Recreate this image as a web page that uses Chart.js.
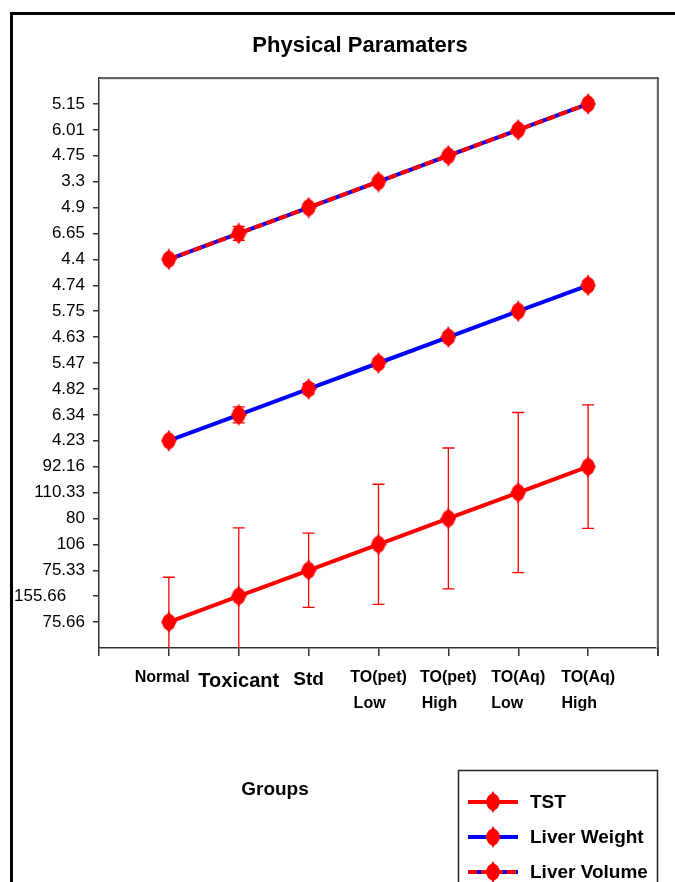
<!doctype html>
<html lang="en"><head>
<meta charset="utf-8"/>
<title>Physical Paramaters</title>
<script src="https://cdn.jsdelivr.net/npm/chart.js@4.4.6/dist/chart.umd.min.js"></script>
<style>
  *{box-sizing:border-box}
  html,body{margin:0;padding:0;background:#fff}
  #wrap{width:675px;height:882px;overflow:hidden}
</style></head>
<body>
<div id="wrap"><canvas id="c" width="675" height="882"></canvas></div>
<script>
// data: every point sits on one y tick (index), tick labels are the printed values
const groups = [['Normal   '], ['Toxicant'], ['Std'], ['TO(pet)', 'Low    '], ['TO(pet)', 'High    '], ['TO(Aq)', 'Low     '], ['TO(Aq)', 'High    ']];
const yTickLabels = ['75.66', '155.66    ', '75.33', '106', '80', '110.33', '92.16',
  '4.23', '6.34', '4.82', '5.47', '4.63', '5.75', '4.74',
  '4.4', '6.65', '4.9', '3.3', '4.75', '6.01', '5.15'];
const tst = [0, 1, 2, 3, 4, 5, 6];
const tstErr = [1.73, 2.64, 1.43, 2.32, 2.72, 3.09, 2.38];
const liverWeight = [7, 8, 9, 10, 11, 12, 13];
const liverWeightErr = [0.12, 0.31, 0.2, 0.15, 0.15, 0.12, 0.15];
const liverVolume = [14, 15, 16, 17, 18, 19, 20];
const liverVolumeErr = [0.1, 0.27, 0.15, 0.12, 0.12, 0.12, 0.15];

const NARROW = '"Liberation Sans Narrow","Arial Narrow","Liberation Sans",Arial,sans-serif';
const RED = '#ff0000', BLUE = '#0000ff';
const xLabelSize = [16, 16, 20, 19, 16, 16, 16, 16, 16];

// tall, rounded red diamond marker
function diamond(w, h){
  const c = document.createElement('canvas'); c.width = w; c.height = h;
  const g = c.getContext('2d');
  g.fillStyle = RED; g.beginPath();
  g.moveTo(w/2, 0); g.quadraticCurveTo(w*0.66, h*0.28, w, h/2); g.quadraticCurveTo(w*0.66, h*0.72, w/2, h);
  g.quadraticCurveTo(w*0.34, h*0.72, 0, h/2); g.quadraticCurveTo(w*0.34, h*0.28, w/2, 0); g.closePath(); g.fill();
  g.beginPath(); g.ellipse(w/2, h/2, w*0.42, h*0.38, 0, 0, Math.PI*2); g.fill();
  return c;
}
const MARK = diamond(16, 22);
const pts = ys => ys.map((y, i) => ({x: i + 1, y}));

const frame = {
  id: 'frame',
  beforeDraw(ch){
    const g = ch.ctx;
    g.save(); g.fillStyle = '#fff'; g.fillRect(0, 0, ch.width, ch.height);
    g.fillStyle = '#000'; g.fillRect(10, 12, 665, 3); g.fillRect(10, 12, 3, 870);
    g.restore();
  },
  beforeDatasetsDraw(ch){
    // error bars, clipped to the plot
    const g = ch.ctx, a = ch.chartArea, xs = ch.scales.x, ys = ch.scales.y;
    g.save(); g.beginPath(); g.rect(a.left, a.top, a.right - a.left, a.bottom - a.top); g.clip();
    g.strokeStyle = RED; g.lineWidth = 1.3;
    ch.data.datasets.forEach(ds => {
      if (!ds.err) return;
      ds.data.forEach((p, i) => {
        const x = xs.getPixelForValue(p.x), t = ys.getPixelForValue(p.y + ds.err[i]), b = ys.getPixelForValue(p.y - ds.err[i]);
        g.beginPath(); g.moveTo(x, t); g.lineTo(x, b);
        g.moveTo(x - 6, t); g.lineTo(x + 6, t); g.moveTo(x - 6, b); g.lineTo(x + 6, b); g.stroke();
      });
    });
    g.restore();
  },
  afterDraw(ch){
    const g = ch.ctx, a = ch.chartArea;
    g.save();
    // top + right side of plot frame
    g.strokeStyle = '#ddd'; g.lineWidth = 1;
    g.beginPath(); g.moveTo(a.left, a.top + 1.5); g.lineTo(a.right - 1.5, a.top + 1.5); g.lineTo(a.right - 1.5, a.bottom); g.stroke();
    g.strokeStyle = '#333'; g.lineWidth = 1.5;
    g.beginPath(); g.moveTo(a.left, a.top); g.lineTo(a.right, a.top); g.lineTo(a.right, a.bottom + 8); g.stroke();
    g.fillStyle = '#000'; g.textBaseline = 'middle'; g.textAlign = 'center';
    g.font = 'bold 22px ' + NARROW; g.fillText('Physical Paramaters', 360, 46);
    g.font = 'bold 19px ' + NARROW; g.fillText('Groups', 275, 790);
    // legend box
    g.strokeStyle = '#222'; g.lineWidth = 1.5; g.strokeRect(458.5, 770.5, 199, 130);
    const items = ch.data.datasets.filter(d => d.inLegend);
    items.forEach((d, i) => {
      const y = 802 + i * 35;
      if (d.under){ g.strokeStyle = d.under; g.lineWidth = 4; g.beginPath(); g.moveTo(468, y); g.lineTo(518, y); g.stroke(); }
      g.strokeStyle = d.borderColor; g.lineWidth = 4; g.setLineDash(d.borderDash || []);
      g.beginPath(); g.moveTo(468, y); g.lineTo(518, y); g.stroke(); g.setLineDash([]);
      g.drawImage(MARK, 493 - MARK.width/2, y - MARK.height/2);
      g.fillStyle = '#000'; g.textAlign = 'left'; g.font = 'bold 19px ' + NARROW;
      g.fillText(d.label, 530, y + 1);
    });
    g.restore();
  }
};

new Chart(document.getElementById('c'), {
  type: 'line',
  data: {datasets: [
    {label: 'TST', data: pts(tst), err: tstErr, inLegend: true, borderColor: RED, borderWidth: 4, order: 0},
    {label: 'Liver Weight', data: pts(liverWeight), err: liverWeightErr, inLegend: true, borderColor: BLUE, borderWidth: 4, order: 0},
    {label: 'Liver Volume', data: pts(liverVolume), err: liverVolumeErr, inLegend: true, under: BLUE, borderColor: RED, borderDash: [9, 4], borderWidth: 4, order: 0},
    {label: 'Liver Volume (under)', data: pts(liverVolume), borderColor: BLUE, borderWidth: 4, pointRadius: 0, order: 1}
  ]},
  options: {
    responsive: false, animation: false,
    layout: {padding: {top: 78, right: 17, left: 0, bottom: 0}},
    elements: {
      line: {tension: 0, fill: false},
      point: {pointStyle: MARK, radius: 8, backgroundColor: RED, borderColor: RED}
    },
    plugins: {legend: {display: false}, title: {display: false}, tooltip: {enabled: false}},
    scales: {
      x: {
        type: 'linear', min: 0, max: 8,
        afterFit: s => { s.height = 882 - 648; },
        border: {display: true, color: '#333', width: 1.5},
        grid: {drawOnChartArea: false, drawTicks: true, tickLength: 8, color: '#333', lineWidth: 1.5},
        ticks: {
          stepSize: 1, autoSkip: false, maxRotation: 0, padding: 9, color: '#000',
          callback: v => groups[v - 1] || '',
          font: c => ({family: NARROW, weight: 'bold', size: xLabelSize[c.index] || 16, lineHeight: 1.6})
        }
      },
      y: {
        type: 'linear', min: -1, max: 21,
        afterFit: s => { s.width = 99; },
        afterBuildTicks: s => { s.ticks = s.ticks.filter(t => t.value >= 0 && t.value < yTickLabels.length); },
        border: {display: true, color: '#333', width: 1.5},
        grid: {drawOnChartArea: false, drawTicks: true, tickLength: 6, color: '#333', lineWidth: 1.5},
        ticks: {
          stepSize: 1, autoSkip: false, padding: 8, color: '#000',
          callback: v => yTickLabels[v],
          font: {family: NARROW, size: 17}
        }
      }
    }
  },
  plugins: [frame]
});
</script>
</body></html>
